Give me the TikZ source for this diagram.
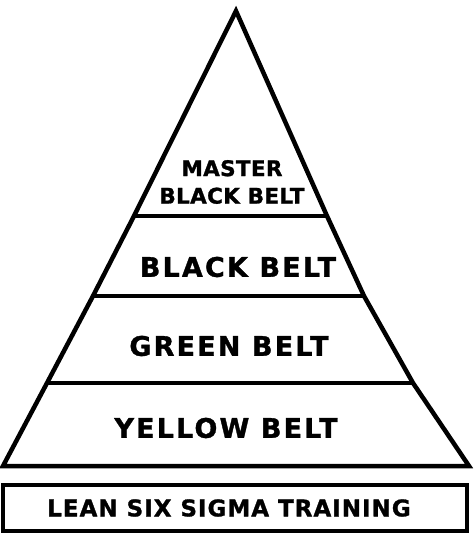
\documentclass[tikz,border=0pt]{standalone}
\usepackage{fontspec}
\setmainfont{DejaVu Sans}
\newfontfamily\beltfont[LetterSpace=8,FakeBold=1.2]{DejaVu Sans Bold}
\newfontfamily\trainfont[LetterSpace=4.3,FakeBold=1.2]{DejaVu Sans Bold}
\newfontfamily\masterfont[LetterSpace=1.5,FakeBold=1.2]{DejaVu Sans Bold}
\usepackage{tikz}

\tikzset{
  belt/.style={font=\beltfont\fontsize{27}{30}\selectfont, inner sep=0pt},
  toplabel/.style={font=\masterfont\fontsize{21.5}{27.5}\selectfont, inner sep=0pt, align=center}
}

\begin{document}
\begin{tikzpicture}[x=1pt, y=-1pt, line width=4.5pt, line join=miter]
  \useasboundingbox (0,0) rectangle (474,545);
  % pyramid outline
  \coordinate (apex) at (236,11);
  \coordinate (l1) at (134,216);  \coordinate (r1) at (327,216);
  \coordinate (l2) at (93,296);   \coordinate (r2) at (364,296);
  \coordinate (l3) at (47,383);   \coordinate (r3) at (413,383);
  \coordinate (bl) at (3,466);    \coordinate (br) at (469,466);
  \draw (apex) -- (l1) -- (l2) -- (l3) -- (bl) -- (br) -- (r3) -- (r2) -- (r1) -- cycle;
  % layers
  \draw (l1) -- (r1);
  \draw (l2) -- (r2);
  \draw (l3) -- (r3);
  % labels
  \node[toplabel] (master) at (232,182) {MASTER\\BLACK BELT};
  \node[belt] (black) at (238,267) {BLACK BELT};
  \node[belt] (green) at (229,346) {GREEN BELT};
  \node[belt] (yellow) at (226,428) {YELLOW BELT};
  % training box
  \draw (3,485) rectangle (467,531);
  \node[font=\trainfont\fontsize{23}{26}\selectfont, inner sep=0pt] (training) at (229,508) {LEAN SIX SIGMA TRAINING};
\end{tikzpicture}
\end{document}
